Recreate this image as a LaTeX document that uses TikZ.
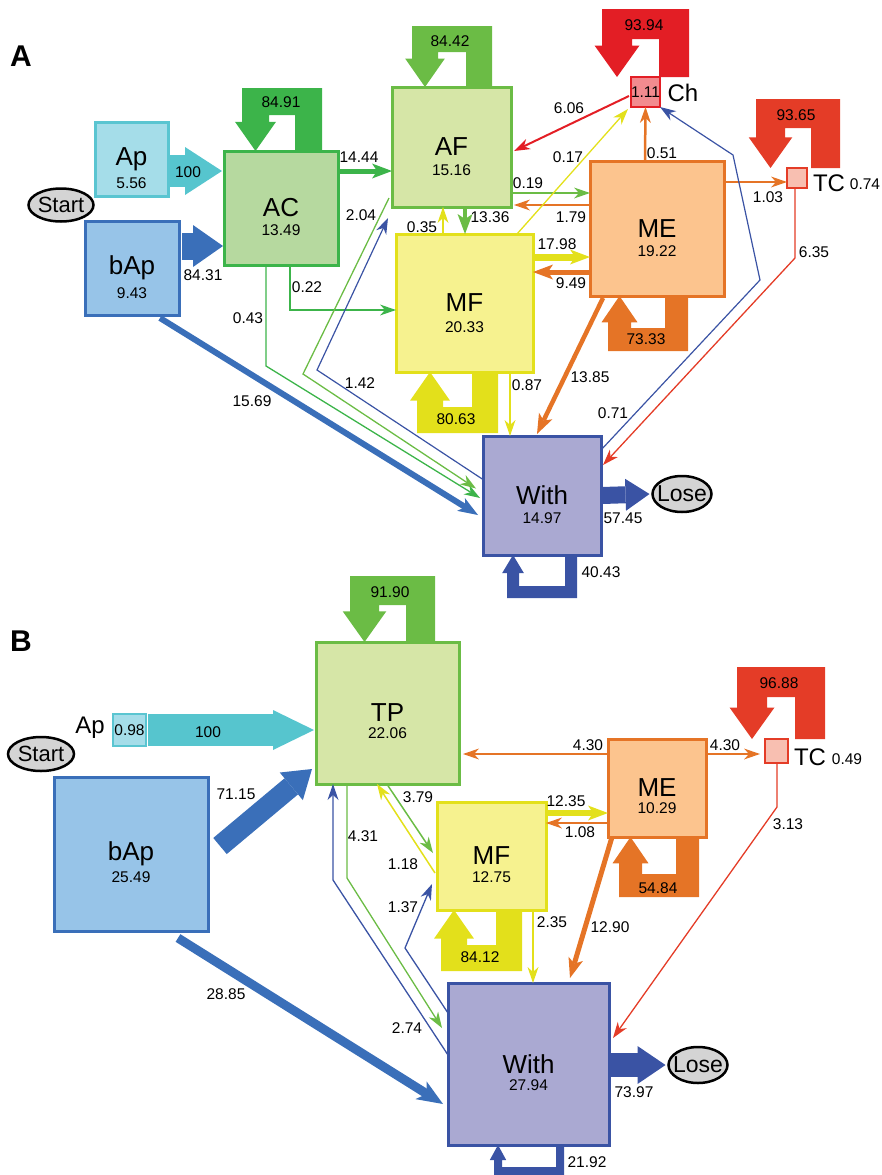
\documentclass[tikz,border=0pt]{standalone}
\usepackage{fontspec}
\setmainfont{Liberation Sans}
\usetikzlibrary{arrows.meta,calc,shapes.geometric}

\definecolor{apfill}{HTML}{A5DDE9}
\definecolor{apline}{HTML}{5AC5D1}
\definecolor{apflow}{HTML}{56C5CE}
\definecolor{bapfill}{HTML}{97C4E8}
\definecolor{bapline}{HTML}{3A6FB9}
\definecolor{acfill}{HTML}{B6D99F}
\definecolor{acline}{HTML}{3CB44A}
\definecolor{affill}{HTML}{D6E6A7}
\definecolor{afline}{HTML}{6BBC45}
\definecolor{mffill}{HTML}{F6F28F}
\definecolor{mfline}{HTML}{E3E01B}
\definecolor{mefill}{HTML}{FCC48E}
\definecolor{meline}{HTML}{E57426}
\definecolor{chfill}{HTML}{F28B8F}
\definecolor{chline}{HTML}{E31E25}
\definecolor{tcfill}{HTML}{F8BFB1}
\definecolor{tcline}{HTML}{E43C27}
\definecolor{wifill}{HTML}{AAA9D2}
\definecolor{wiline}{HTML}{3A53A4}
\definecolor{termfill}{HTML}{D4D4D4}

\newcommand{\boxfont}{\fontsize{26}{26}\selectfont}
\newcommand{\numfont}{\fontsize{15.5}{17}\selectfont}
\newcommand{\tagfont}{\fontsize{24}{24}\selectfont}

% U-shaped self transition: colour, left x, right x, box edge y, outer y, width
\newcommand{\loopflow}[6]{%
  \pgfmathsetmacro\lps{sign(#5-#4)}%
  \pgfmathsetmacro\lpe{3+0.15*#6}%
  \pgfmathsetmacro\lph{0.75*#6+9}%
  \pgfmathsetmacro\lpy{#4+(\lps)*\lph}%
  \pgfmathsetmacro\lpi{#5-(\lps)*#6}%
  \pgfmathsetmacro\lpm{#2+#6/2}%
  \fill[#1] (\lpm,#4) -- ({#2+#6+\lpe},\lpy) -- ({#2+#6},\lpy) -- ({#2+#6},\lpi)
    -- ({#3-#6},\lpi) -- ({#3-#6},#4) -- (#3,#4) -- (#3,#5) -- (#2,#5)
    -- (#2,\lpy) -- ({#2-\lpe},\lpy) -- cycle;
}

\tikzset{
  statebox/.style={draw, line width=3pt, inner sep=0pt, outer sep=0pt, font=\boxfont},
  term/.style={ellipse, draw=black, line width=2.5pt, fill=termfill, inner sep=0pt, outer sep=0pt},
  lab/.style={font=\numfont, inner sep=0pt},
  tag/.style={font=\tagfont, inner sep=0pt},
  panel/.style={font=\fontsize{30}{30}\selectfont\bfseries, inner sep=0pt},
  flowtip/.style={-{Stealth[length=16pt,width=11pt,inset=5pt,line width=0pt]}},
  bigtip/.style={-{Stealth[length=20pt,width=15pt,inset=5pt,line width=0pt]}},
  hugetip/.style={-{Stealth[length=26pt,width=21pt,inset=7pt,line width=0pt]}},
}

\begin{document}
\begin{tikzpicture}[x=1pt,y=-1pt]
    \useasboundingbox (0,0) rectangle (881,1175);

    % ---------------- A ----------------
    \node (pA) [panel] at (21,56) {A};
    \node (StartA) [term, minimum width=65pt, minimum height=33pt, font=\fontsize{22}{22}\selectfont] at (61,205) {\makebox[0pt]{Start}};
    \node (ApA) [statebox, fill=apfill, draw=apline, minimum width=73pt, minimum height=74pt] at (131.5,159) {Ap};
    \node (ApAv) [lab] at ($(ApA)+(0,24)$) {5.56};
    \node (bApA) [statebox, fill=bapfill, draw=bapline, minimum width=94pt, minimum height=94pt] at (132,268) {bAp};
    \node (bApAv) [lab] at ($(bApA)+(0,25)$) {9.43};
    \node (AC) [statebox, fill=acfill, draw=acline, minimum width=114pt, minimum height=114pt] at (281,208) {AC};
    \node (ACv) [lab] at ($(AC)+(0,22)$) {13.49};
    \node (AF) [statebox, fill=affill, draw=afline, minimum width=119pt, minimum height=120pt] at (451.5,147) {AF};
    \node (AFv) [lab] at ($(AF)+(0,23)$) {15.16};
    \node (MFA) [statebox, fill=mffill, draw=mfline, minimum width=137pt, minimum height=138pt] at (464.5,303) {MF};
    \node (MFAv) [lab] at ($(MFA)+(0,24)$) {20.33};
    \node (MEA) [statebox, fill=mefill, draw=meline, minimum width=134pt, minimum height=135pt] at (657,228.5) {ME};
    \node (MEAv) [lab] at ($(MEA)+(0,22.5)$) {19.22};
    \node (WithA) [statebox, fill=wifill, draw=wiline, minimum width=118pt, minimum height=119pt] at (542,495.5) {With};
    \node (WithAv) [lab] at ($(WithA)+(0,22.5)$) {14.97};
    \node (Ch) [statebox, fill=chfill, draw=chline, line width=2.5pt, minimum width=29pt, minimum height=30pt, font=\numfont] at (645.5,92) {\makebox[0pt]{1.11}};
    \node (Cht) [tag] at (683,93) {Ch};
    \node (TCA) [statebox, fill=tcfill, draw=tcline, line width=2.5pt, minimum width=20pt, minimum height=20pt] at (797,178) {};
    \node (TCAt) [tag] at (829,183) {TC};
    \node (LoseA) [term, minimum width=59pt, minimum height=36pt, font=\fontsize{23}{23}\selectfont] at (682,494) {\makebox[0pt]{Lose}};

    \loopflow{acline}{242}{322}{151}{88}{27}
    \loopflow{afline}{412}{492}{87}{26}{26}
    \loopflow{chline}{602}{689}{77}{9}{30}
    \loopflow{tcline}{756}{840}{168}{99}{29}
    \loopflow{mfline}{417}{498}{372}{433}{26}
    \loopflow{meline}{608}{688}{296}{351}{23}
    \loopflow{wiline}{507}{577}{555}{598}{12}

    \draw[apflow, line width=32pt, -{Triangle[length=37pt,width=48pt,line width=0pt]}] ($(ApA.east)+(2,12)$) -- ($(AC.west)+(-2,-37)$);
    \draw[bapline, line width=27pt, -{Triangle[length=30pt,width=42pt,line width=0pt]}] ($(bApA.east)+(3,-22)$) -- ($(AC.west)+(-1,38)$);
    \draw[acline, line width=5pt, bigtip] ($(AC.east)+(0,-37)$) -- ($(AF.west)+(0,24)$);
    \draw[acline, line width=2pt, flowtip] ($(AC.south)+(9,0)$) |- ($(MFA.west)+(0,7)$);
    \draw[acline, line width=1.3pt, flowtip] ($(AC.south)+(-15,0)$) -- (266,366) -- ($(WithA.west)+(-3,2.5)$);
    \draw[afline, line width=1.3pt, flowtip] ($(AF.south west)+(-3,-9)$) -- (303,374) -- ($(WithA.west)+(-7,-7)$);
    \draw[wiline, line width=1.2pt, flowtip] ($(WithA.west)+(0,-16)$) -- (317,370) -- ($(AF.south west)+(-4,11)$);
    \draw[bapline, line width=6pt, bigtip] ($(bApA.south)+(28,3)$) -- ($(WithA.west)+(-5,19.5)$);
    \draw[afline, line width=4.5pt, bigtip] ($(AF.south)+(13.5,0)$) -- ($(MFA.north)+(0.5,0)$);
    \draw[mfline, line width=2pt, flowtip] ($(MFA.north)+(-21.5,0)$) -- ($(AF.south)+(-8.5,0)$);
    \draw[afline, line width=2pt, flowtip] ($(AF.east)+(0,46)$) -- ($(MEA.west)+(0,-35.5)$);
    \draw[meline, line width=2pt, flowtip] ($(MEA.west)+(0,-23.5)$) -- ($(AF.east)+(3,58)$);
    \draw[mfline, line width=7pt, bigtip] ($(MFA.east)+(0,-46)$) -- ($(MEA.west)+(0,28.5)$);
    \draw[meline, line width=5pt, bigtip] ($(MEA.west)+(0,43.5)$) -- ($(MFA.east)+(0,-31)$);
    \draw[mfline, line width=1.3pt, flowtip] ($(MFA.north east)+(-16,0)$) -- ($(Ch.south west)+(-3,2)$);
    \draw[chline, line width=2pt, flowtip] ($(Ch.west)+(-2,4)$) -- ($(AF.east)+(3,4)$);
    \draw[meline, line width=2.5pt, flowtip] ($(MEA.north)+(-12,0)$) -- (Ch.south);
    \draw[meline, line width=1.8pt, flowtip] ($(MEA.east)+(0,-46.5)$) -- ($(TCA.west)+(0,4)$);
    \draw[tcline, line width=1.3pt, flowtip] ($(TCA.south)+(-2,0)$) -- (795,258) -- ($(WithA.north east)+(2,29)$);
    \draw[wiline, line width=1.2pt, flowtip] ($(WithA.north east)+(0,14)$) -- (760,280) -- (733,155) -- (Ch.south east);
    \draw[mfline, line width=1.5pt, flowtip] ($(MFA.south)+(45.5,0)$) -- ($(WithA.north)+(-32,0)$);
    \draw[meline, line width=4.5pt, bigtip] ($(MEA.south west)+(13,2)$) -- ($(WithA.north)+(-5,-2)$);
    \draw[wiline, line width=17pt, -{Triangle[length=24pt,width=32pt,line width=0pt]}] ($(WithA.east)+(1,0)$) -- ($(LoseA.west)+(-3,0)$);

    \node (a8491) [lab] at (281,102) {84.91};
    \node (a8442) [lab] at (450,41) {84.42};
    \node (a9394) [lab] at (644,25) {93.94};
    \node (a9365) [lab] at (796,115) {93.65};
    \node (a8063) [lab] at (456,419) {80.63};
    \node (a7333) [lab] at (646,339) {73.33};
    \node (a4043) [lab] at (601,572) {40.43};
    \node (a100) [lab] at (188,172) {100};
    \node (a8431) [lab] at (203,275) {84.31};
    \node (a1444) [lab] at (359,157) {14.44};
    \node (a022) [lab] at (307,287) {0.22};
    \node (a043) [lab] at (248,318) {0.43};
    \node (a204) [lab] at (361,215) {2.04};
    \node (a142) [lab] at (360,383) {1.42};
    \node (a1569) [lab] at (252,401) {15.69};
    \node (a1336) [lab] at (490,217) {13.36};
    \node (a035) [lab] at (422,227) {0.35};
    \node (a019) [lab] at (528,183) {0.19};
    \node (a179) [lab] at (571,217) {1.79};
    \node (a1798) [lab] at (557,244) {17.98};
    \node (a949) [lab] at (571,283) {9.49};
    \node (a017) [lab] at (568,157) {0.17};
    \node (a606) [lab] at (569,108) {6.06};
    \node (a051) [lab] at (662,153) {0.51};
    \node (a103) [lab] at (768,197) {1.03};
    \node (a635) [lab] at (814,252) {6.35};
    \node (a074) [lab] at (865,184) {0.74};
    \node (a087) [lab] at (527,385) {0.87};
    \node (a1385) [lab] at (590,377) {13.85};
    \node (a071) [lab] at (613,413) {0.71};
    \node (a5745) [lab] at (623,518) {57.45};

    % ---------------- B ----------------
    \node (pB) [panel] at (21,641) {B};
    \node (StartB) [term, minimum width=66pt, minimum height=34pt, font=\fontsize{22}{22}\selectfont] at (41,754) {\makebox[0pt]{Start}};
    \node (ApB) [statebox, fill=apfill, draw=apline, line width=2.5pt, minimum width=33pt, minimum height=32pt, font=\numfont] at (129.5,730) {\makebox[0pt]{0.98}};
    \node (ApBt) [tag] at (90,728) {Ap};
    \node (bApB) [statebox, fill=bapfill, draw=bapline, minimum width=154pt, minimum height=154pt] at (131,854) {bAp};
    \node (bApBv) [lab] at ($(bApB)+(0,23)$) {25.49};
    \node (TP) [statebox, fill=affill, draw=afline, minimum width=143pt, minimum height=142pt] at (387.5,713) {TP};
    \node (TPv) [lab] at ($(TP)+(0,20)$) {22.06};
    \node (MFB) [statebox, fill=mffill, draw=mfline, minimum width=109pt, minimum height=108pt] at (491.5,856) {MF};
    \node (MFBv) [lab] at ($(MFB)+(0,21)$) {12.75};
    \node (MEB) [statebox, fill=mefill, draw=meline, minimum width=98pt, minimum height=98pt] at (657,788) {ME};
    \node (MEBv) [lab] at ($(MEB)+(0,20)$) {10.29};
    \node (TCB) [statebox, fill=tcfill, draw=tcline, line width=2.5pt, minimum width=23pt, minimum height=24pt] at (776.5,751) {};
    \node (TCBt) [tag] at (810,757) {TC};
    \node (WithB) [statebox, fill=wifill, draw=wiline, minimum width=161pt, minimum height=162pt] at (528.5,1064) {With};
    \node (WithBv) [lab] at ($(WithB)+(0,21)$) {27.94};
    \node (LoseB) [term, minimum width=59pt, minimum height=36pt, font=\fontsize{23}{23}\selectfont] at (698,1065) {\makebox[0pt]{Lose}};

    \loopflow{afline}{350}{435}{642}{576}{29}
    \loopflow{tcline}{737}{825}{739}{667}{30}
    \loopflow{mfline}{441}{522}{910}{971}{26}
    \loopflow{meline}{619}{699}{837}{897}{23}
    \loopflow{wiline}{494}{564}{1145}{1175}{8}

    \draw[apflow, line width=32pt, -{Triangle[length=41pt,width=40pt,line width=0pt]}] ($(ApB.east)+(2,0)$) -- ($(TP.west)+(-2,17)$);
    \draw[bapline, line width=21pt, -{Triangle[length=27pt,width=36pt,line width=0pt]}] ($(bApB.east)+(12,-8)$) -- ($(TP.south west)+(-4,-15)$);
    \draw[bapline, line width=9pt, hugetip] ($(bApB.south)+(47,7)$) -- ($(WithB.west)+(-5,40)$);
    \draw[meline, line width=2pt, flowtip] ($(MEB.west)+(0,-34)$) -- ($(TP.east)+(4,41)$);
    \draw[meline, line width=2pt, flowtip] ($(MEB.east)+(0,-34)$) -- ($(TCB.west)+(-5,3)$);
    \draw[mfline, line width=5.5pt, bigtip] ($(MFB.east)+(0,-43)$) -- ($(MEB.west)+(0,25)$);
    \draw[meline, line width=2.2pt, flowtip] ($(MEB.west)+(0,35)$) -- ($(MFB.east)+(0,-33)$);
    \draw[tcline, line width=1.3pt, flowtip] ($(TCB.south)+(0.5,0)$) -- (777,807) -- ($(WithB.east)+(4,-26)$);
    \draw[meline, line width=5pt, bigtip] ($(MEB.south west)+(4,0)$) -- ($(WithB.north)+(41.5,-5)$);
    \draw[mfline, line width=1.5pt, flowtip] ($(MFB.south)+(41.5,0)$) -- ($(WithB.north)+(4.5,0)$);
    \draw[afline, line width=1.5pt, flowtip] ($(TP.south)+(0,1)$) -- ($(MFB.west)+(-4,-3)$);
    \draw[mfline, line width=1.5pt, flowtip] ($(MFB.west)+(-2,17)$) -- ($(TP.south)+(-10.5,0)$);
    \draw[afline, line width=1.3pt, flowtip] ($(TP.south)+(-40.5,0)$) -- (347,878) -- ($(WithB.west)+(-6,-36)$);
    \draw[wiline, line width=1.3pt, flowtip] ($(WithB.west)+(0,-9)$) -- (333,880) -- ($(TP.south)+(-54.5,0)$);
    \draw[wiline, line width=1.3pt, flowtip] ($(WithB.west)+(0,-51)$) -- (405,948) -- ($(MFB.south west)+(-5,-26)$);
    \draw[wiline, line width=24pt, -{Triangle[length=28pt,width=38pt,line width=0pt]}] ($(WithB.east)+(2,1)$) -- ($(LoseB.west)+(-3,0)$);

    \node (b9190) [lab] at (390,592) {91.90};
    \node (b9688) [lab] at (779,683) {96.88};
    \node (b8412) [lab] at (480,957) {84.12};
    \node (b5484) [lab] at (658,888) {54.84};
    \node (b2192) [lab] at (587,1162) {21.92};
    \node (b100) [lab] at (208,732) {100};
    \node (b7115) [lab] at (236,794) {71.15};
    \node (b2885) [lab] at (226,994) {28.85};
    \node (b430l) [lab] at (588,745) {4.30};
    \node (b430r) [lab] at (725,745) {4.30};
    \node (b049) [lab] at (847,759) {0.49};
    \node (b1235) [lab] at (566,801) {12.35};
    \node (b108) [lab] at (580,832) {1.08};
    \node (b313) [lab] at (788,824) {3.13};
    \node (b379) [lab] at (418,797) {3.79};
    \node (b431) [lab] at (363,836) {4.31};
    \node (b118) [lab] at (403,864) {1.18};
    \node (b137) [lab] at (403,907) {1.37};
    \node (b235) [lab] at (552,922) {2.35};
    \node (b1290) [lab] at (610,927) {12.90};
    \node (b274) [lab] at (407,1028) {2.74};
    \node (b7397) [lab] at (634,1092) {73.97};

\end{tikzpicture}
\end{document}
